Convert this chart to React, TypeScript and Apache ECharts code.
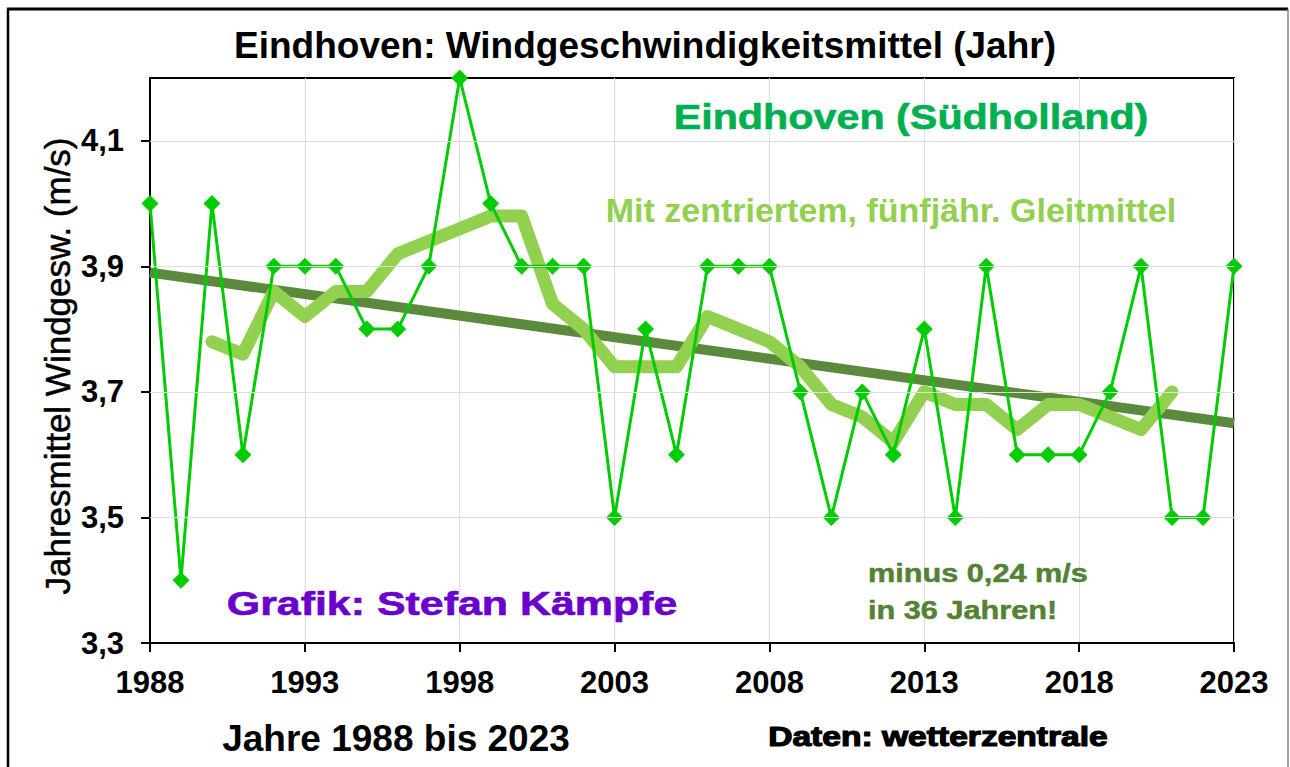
import React, { useEffect, useRef } from "react";
import * as echarts from "echarts";

const years = [
  "1988","1989","1990","1991","1992","1993","1994","1995","1996","1997",
  "1998","1999","2000","2001","2002","2003","2004","2005","2006","2007",
  "2008","2009","2010","2011","2012","2013","2014","2015","2016","2017",
  "2018","2019","2020","2021","2022","2023",
];
const windMean = [
  4.0, 3.4, 4.0, 3.6, 3.9, 3.9, 3.9, 3.8, 3.8, 3.9,
  4.2, 4.0, 3.9, 3.9, 3.9, 3.5, 3.8, 3.6, 3.9, 3.9,
  3.9, 3.7, 3.5, 3.7, 3.6, 3.8, 3.5, 3.9, 3.6, 3.6,
  3.6, 3.7, 3.9, 3.5, 3.5, 3.9,
];
const movingAvg = [
  null, null, 3.78, 3.76, 3.86, 3.82, 3.86, 3.86, 3.92, 3.94,
  3.96, 3.98, 3.98, 3.84, 3.80, 3.74, 3.74, 3.74, 3.82, 3.80,
  3.78, 3.74, 3.68, 3.66, 3.62, 3.70, 3.68, 3.68, 3.64, 3.68,
  3.68, 3.66, 3.64, 3.70, null, null,
];
const trendYears = ["1988", "2023"];
const trendValues = [3.89, 3.65];
const yTickValues = [3.3, 3.5, 3.7, 3.9, 4.1];
const yGridValues = [3.5, 3.7, 3.9, 4.1];

const FONT = '"Liberation Sans", Arial, sans-serif';

export default function App() {
  const ref = useRef<HTMLDivElement>(null);
  useEffect(() => {
    if (!ref.current) return;
    const chart = echarts.init(ref.current, null, { renderer: "svg" });
    const txt = (
      text: string, x: number, y: number, size: number, fill: string,
      align = "center", sx = 1, extra: any = {}
    ) => ({
      type: "text", x, y, scaleX: sx, z: 100,
      style: {
        text, fill, fontSize: size, fontWeight: "bold", fontFamily: FONT,
        align, verticalAlign: "middle", ...extra,
      },
    });
    chart.setOption({
      animation: false,
      backgroundColor: "#fff",
      grid: {
        left: 150, right: 56, top: 78, bottom: 124,
        show: true, borderColor: "#000", borderWidth: 2,
      },
      xAxis: {
        type: "category",
        data: years,
        boundaryGap: false,
        axisLine: { lineStyle: { color: "#000", width: 2 } },
        axisTick: { show: true, interval: 4, length: 9, lineStyle: { color: "#000", width: 2 } },
        axisLabel: {
          interval: 4, color: "#000", fontSize: 31, fontWeight: "bold",
          fontFamily: FONT, margin: 24,
        },
        splitLine: { show: true, interval: 4, lineStyle: { color: "#dedede", width: 1 } },
      },
      yAxis: {
        type: "value",
        min: 3.3, max: 4.2, interval: 0.1,
        axisLine: { show: true, lineStyle: { color: "#000", width: 2 } },
        axisTick: { show: true, customValues: yTickValues, length: 9, lineStyle: { color: "#000", width: 2 } },
        axisLabel: {
          customValues: yTickValues, color: "#000", fontSize: 31, fontWeight: "bold",
          fontFamily: FONT, margin: 26,
          formatter: (v: number) => v.toFixed(1).replace(".", ","),
        },
        splitLine: { show: false },
      },
      series: [
        {
          type: "line",
          data: trendYears.map((y, i) => [y, trendValues[i]]),
          symbol: "none",
          lineStyle: { color: "#5b8a3c", width: 10 },
          z: 2,
          markLine: {
            silent: true, symbol: ["none", "none"], label: { show: false },
            lineStyle: { color: "#dedede", width: 1, type: "solid" },
            data: yGridValues.map((v) => ({ yAxis: v })),
          },
        },
        {
          type: "line",
          data: movingAvg,
          symbol: "none",
          connectNulls: false,
          lineStyle: { color: "#92d050", width: 13, cap: "round", join: "round" },
          z: 3,
        },
        {
          type: "line",
          data: windMean,
          symbol: "diamond",
          symbolSize: 17,
          itemStyle: { color: "#00cc00" },
          lineStyle: { color: "#00cc00", width: 3 },
          z: 4,
        },
      ],
      graphic: [
        { type: "line", shape: { x1: 7, y1: 9, x2: 1288, y2: 9 }, style: { stroke: "#000", lineWidth: 3 } },
        { type: "line", shape: { x1: 8, y1: 9, x2: 8, y2: 767 }, style: { stroke: "#000", lineWidth: 2.5 } },
        { type: "line", shape: { x1: 1288, y1: 9, x2: 1288, y2: 767 }, style: { stroke: "#888", lineWidth: 1.5 } },
        txt("Eindhoven: Windgeschwindigkeitsmittel (Jahr)", 645, 45, 37, "#000"),
        txt("Eindhoven (Südholland)", 911, 117, 35, "#00b050", "center", 1.18, { stroke: "#00b050", lineWidth: 0.6 }),
        txt("Mit zentriertem, fünfjähr. Gleitmittel", 891, 210, 34, "#92d050"),
        txt("minus 0,24 m/s", 868, 573, 26, "#548235", "left", 1.18, { stroke: "#548235", lineWidth: 0.5 }),
        txt("in 36 Jahren!", 868, 610, 26, "#548235", "left", 1.18, { stroke: "#548235", lineWidth: 0.5 }),
        txt("Grafik: Stefan Kämpfe", 452, 603, 33, "#6a00cc", "center", 1.3, { stroke: "#6a00cc", lineWidth: 0.6 }),
        txt("Jahre 1988 bis 2023", 396, 738, 37, "#000"),
        txt("Daten: wetterzentrale", 938, 736, 28, "#000", "center", 1.2, { stroke: "#000", lineWidth: 1.2 }),
        {
          type: "text", x: 57, y: 366, rotation: Math.PI / 2, z: 100,
          style: {
            text: "Jahresmittel Windgesw. (m/s)", fill: "#000", fontSize: 35,
            fontWeight: "normal", fontFamily: FONT, align: "center", verticalAlign: "middle",
            stroke: "#000", lineWidth: 0.5,
          },
        },
      ],
    });
    return () => chart.dispose();
  }, []);
  return (
    <div
      ref={ref}
      style={{ position: "fixed", left: 0, top: 0, width: 1290, height: 767, background: "#fff" }}
    />
  );
}
